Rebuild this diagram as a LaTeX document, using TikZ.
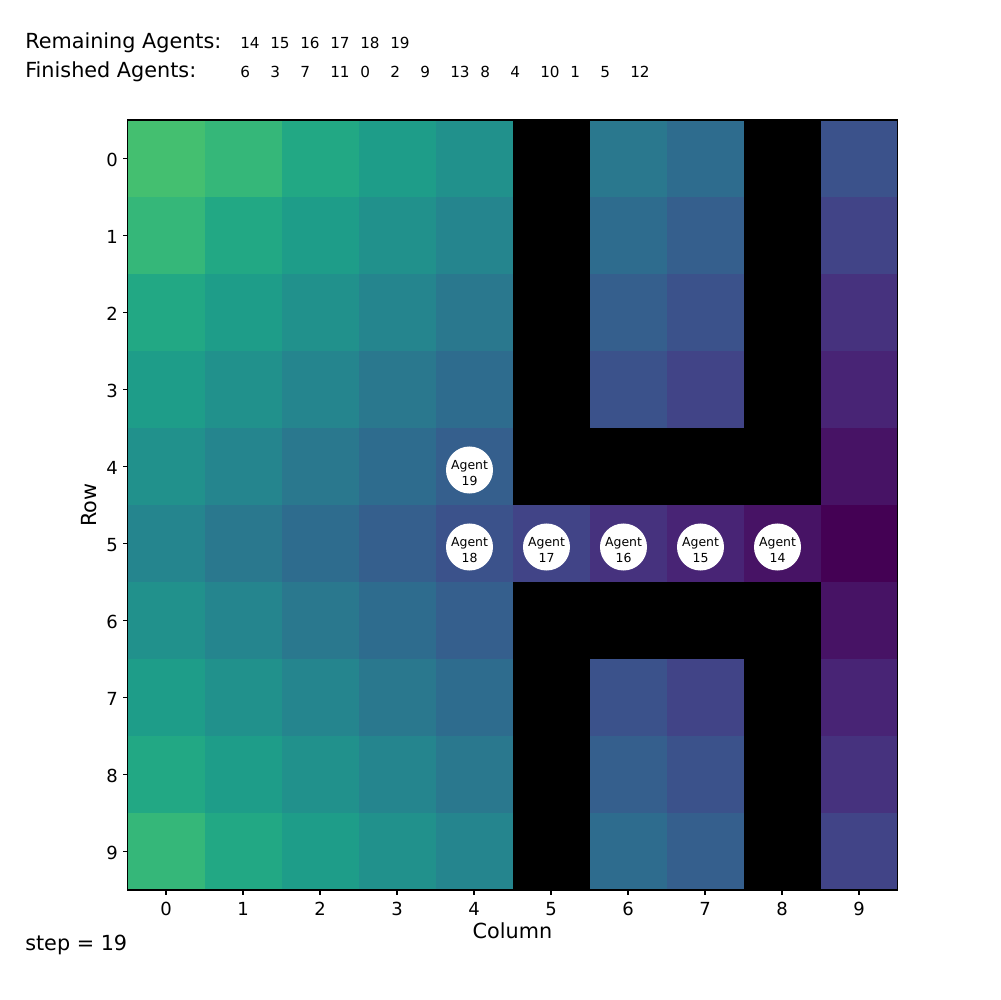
\documentclass[tikz,border=0pt]{standalone}
\usepackage{fontspec}
\setmainfont{DejaVu Sans}

\definecolor{dist0}{RGB}{68,1,84}
\definecolor{dist1}{RGB}{71,19,101}
\definecolor{dist2}{RGB}{72,36,117}
\definecolor{dist3}{RGB}{70,50,126}
\definecolor{dist4}{RGB}{65,68,135}
\definecolor{dist5}{RGB}{59,82,139}
\definecolor{dist6}{RGB}{53,95,141}
\definecolor{dist7}{RGB}{46,108,142}
\definecolor{dist8}{RGB}{42,120,142}
\definecolor{dist9}{RGB}{37,133,142}
\definecolor{dist10}{RGB}{33,145,140}
\definecolor{dist11}{RGB}{30,157,137}
\definecolor{dist12}{RGB}{34,168,132}
\definecolor{dist13}{RGB}{53,183,121}
\definecolor{dist14}{RGB}{68,191,112}

\newcommand\gridleft{127.5}
\newcommand\gridtop{120}
\newcommand\gridcellsize{77}
\newcommand\ticklength{4.9}
\newcommand\headertextstyle{\fontsize{15}{18}\selectfont}
\newcommand\listtextstyle{\fontsize{11}{13}\selectfont}
\newcommand\ticktextstyle{\fontsize{13}{15}\selectfont}
\newcommand\axistextstyle{\fontsize{15}{18}\selectfont}
\newcommand\agenttextstyle{\fontsize{9}{12}\selectfont}

\tikzset{
  agent/.style={circle, fill=white, inner sep=0pt, minimum size=0.47in},
  agentlabel/.style={align=center, inner sep=0pt, yshift=-0.03in, font=\agenttextstyle},
  ticklabel/.style={inner sep=0pt, font=\ticktextstyle},
  tickline/.style={line width=0.8pt},
  listtext/.style={anchor=base west, inner sep=0pt, font=\listtextstyle},
  headertext/.style={anchor=base west, inner sep=0pt, font=\headertextstyle},
  axistext/.style={inner sep=0pt, font=\axistextstyle}
}

\newcommand\startgridrow[1]{\def\gridrow{#1}\pgfmathparse{0}\let\x\pgfmathresult}
\newcommand\gridcell{
  \pgfmathtruncatemacro\griddist{abs(\gridrow - 5) + abs(\x - 9)}
  \fill[dist\griddist] (\gridleft + \x * \gridcellsize, \gridtop + \gridrow * \gridcellsize) rectangle ++ (\gridcellsize, \gridcellsize) ;
  \pgfmathparse{\x + 1}\let\x\pgfmathresult
}
\newcommand\gridwall{
  \fill[black] (\gridleft + \x * \gridcellsize, \gridtop + \gridrow * \gridcellsize) rectangle ++ (\gridcellsize, \gridcellsize) ;
  \pgfmathparse{\x + 1}\let\x\pgfmathresult
}
\newcommand\gridagent[3]{
  \node[agent, label={[agentlabel]center:{Agent\\#1}}] (agent#1) at (\gridleft + #3 * \gridcellsize + 34, \gridtop + #2 * \gridcellsize + 42) {} ;
}
\newcommand\xtick[1]{
  \draw[tickline] (\gridleft + #1 * \gridcellsize + 38.5, \gridtop + 10 * \gridcellsize) -- ++ (0, \ticklength) ;
  \node[ticklabel, anchor=base] (xtick#1) at (\gridleft + #1 * \gridcellsize + 38.5, 915.5) {#1} ;
}
\newcommand\ytick[1]{
  \draw[tickline] (\gridleft, \gridtop + #1 * \gridcellsize + 38.5) -- ++ (-\ticklength, 0) ;
  \node[ticklabel, anchor=east] (ytick#1) at (118, \gridtop + #1 * \gridcellsize + 40) {#1} ;
}
\newcommand\startlist[1]{\def\listbase{#1}\pgfmathparse{240}\let\x\pgfmathresult}
\newcommand\listentry[2]{
  \node[listtext] (#1) at (\x, \listbase) {#2} ;
  \pgfmathparse{\x + 30}\let\x\pgfmathresult
}

\begin{document}
\begin{tikzpicture}[x=0.01in, y=-0.01in]
    \fill[white] (0, 0) rectangle (1000, 1000) ;
    \useasboundingbox (0, 0) rectangle (1000, 1000) ;
    \startgridrow{0}
    \gridcell \gridcell \gridcell \gridcell \gridcell \gridwall \gridcell \gridcell \gridwall \gridcell
    \startgridrow{1}
    \gridcell \gridcell \gridcell \gridcell \gridcell \gridwall \gridcell \gridcell \gridwall \gridcell
    \startgridrow{2}
    \gridcell \gridcell \gridcell \gridcell \gridcell \gridwall \gridcell \gridcell \gridwall \gridcell
    \startgridrow{3}
    \gridcell \gridcell \gridcell \gridcell \gridcell \gridwall \gridcell \gridcell \gridwall \gridcell
    \startgridrow{4}
    \gridcell \gridcell \gridcell \gridcell \gridcell \gridwall \gridwall \gridwall \gridwall \gridcell
    \startgridrow{5}
    \gridcell \gridcell \gridcell \gridcell \gridcell \gridcell \gridcell \gridcell \gridcell \gridcell
    \startgridrow{6}
    \gridcell \gridcell \gridcell \gridcell \gridcell \gridwall \gridwall \gridwall \gridwall \gridcell
    \startgridrow{7}
    \gridcell \gridcell \gridcell \gridcell \gridcell \gridwall \gridcell \gridcell \gridwall \gridcell
    \startgridrow{8}
    \gridcell \gridcell \gridcell \gridcell \gridcell \gridwall \gridcell \gridcell \gridwall \gridcell
    \startgridrow{9}
    \gridcell \gridcell \gridcell \gridcell \gridcell \gridwall \gridcell \gridcell \gridwall \gridcell
    \draw[line width=0.8pt] (\gridleft, \gridtop) rectangle ++ (10 * \gridcellsize, 10 * \gridcellsize) ;
    \gridagent{19}{4}{4}
    \gridagent{18}{5}{4}
    \gridagent{17}{5}{5}
    \gridagent{16}{5}{6}
    \gridagent{15}{5}{7}
    \gridagent{14}{5}{8}
    \xtick{0} \xtick{1} \xtick{2} \xtick{3} \xtick{4} \xtick{5} \xtick{6} \xtick{7} \xtick{8} \xtick{9}
    \ytick{0} \ytick{1} \ytick{2} \ytick{3} \ytick{4} \ytick{5} \ytick{6} \ytick{7} \ytick{8} \ytick{9}
    \node[axistext, anchor=base] (columnlabel) at (512.5, 938.5) {Column} ;
    \node[axistext, anchor=base, rotate=90] (rowlabel) at (96, 505) {Row} ;
    \node[headertext] (remaininglabel) at (25, 49) {Remaining Agents:} ;
    \node[headertext] (finishedlabel) at (25, 78) {Finished Agents:} ;
    \node[headertext] (steplabel) at (25, 950) {step = 19} ;
    \startlist{49}
    \listentry{remaining14}{14}
    \listentry{remaining15}{15}
    \listentry{remaining16}{16}
    \listentry{remaining17}{17}
    \listentry{remaining18}{18}
    \listentry{remaining19}{19}
    \startlist{78}
    \listentry{finished6}{6}
    \listentry{finished3}{3}
    \listentry{finished7}{7}
    \listentry{finished11}{11}
    \listentry{finished0}{0}
    \listentry{finished2}{2}
    \listentry{finished9}{9}
    \listentry{finished13}{13}
    \listentry{finished8}{8}
    \listentry{finished4}{4}
    \listentry{finished10}{10}
    \listentry{finished1}{1}
    \listentry{finished5}{5}
    \listentry{finished12}{12}
  \end{tikzpicture}
\end{document}
